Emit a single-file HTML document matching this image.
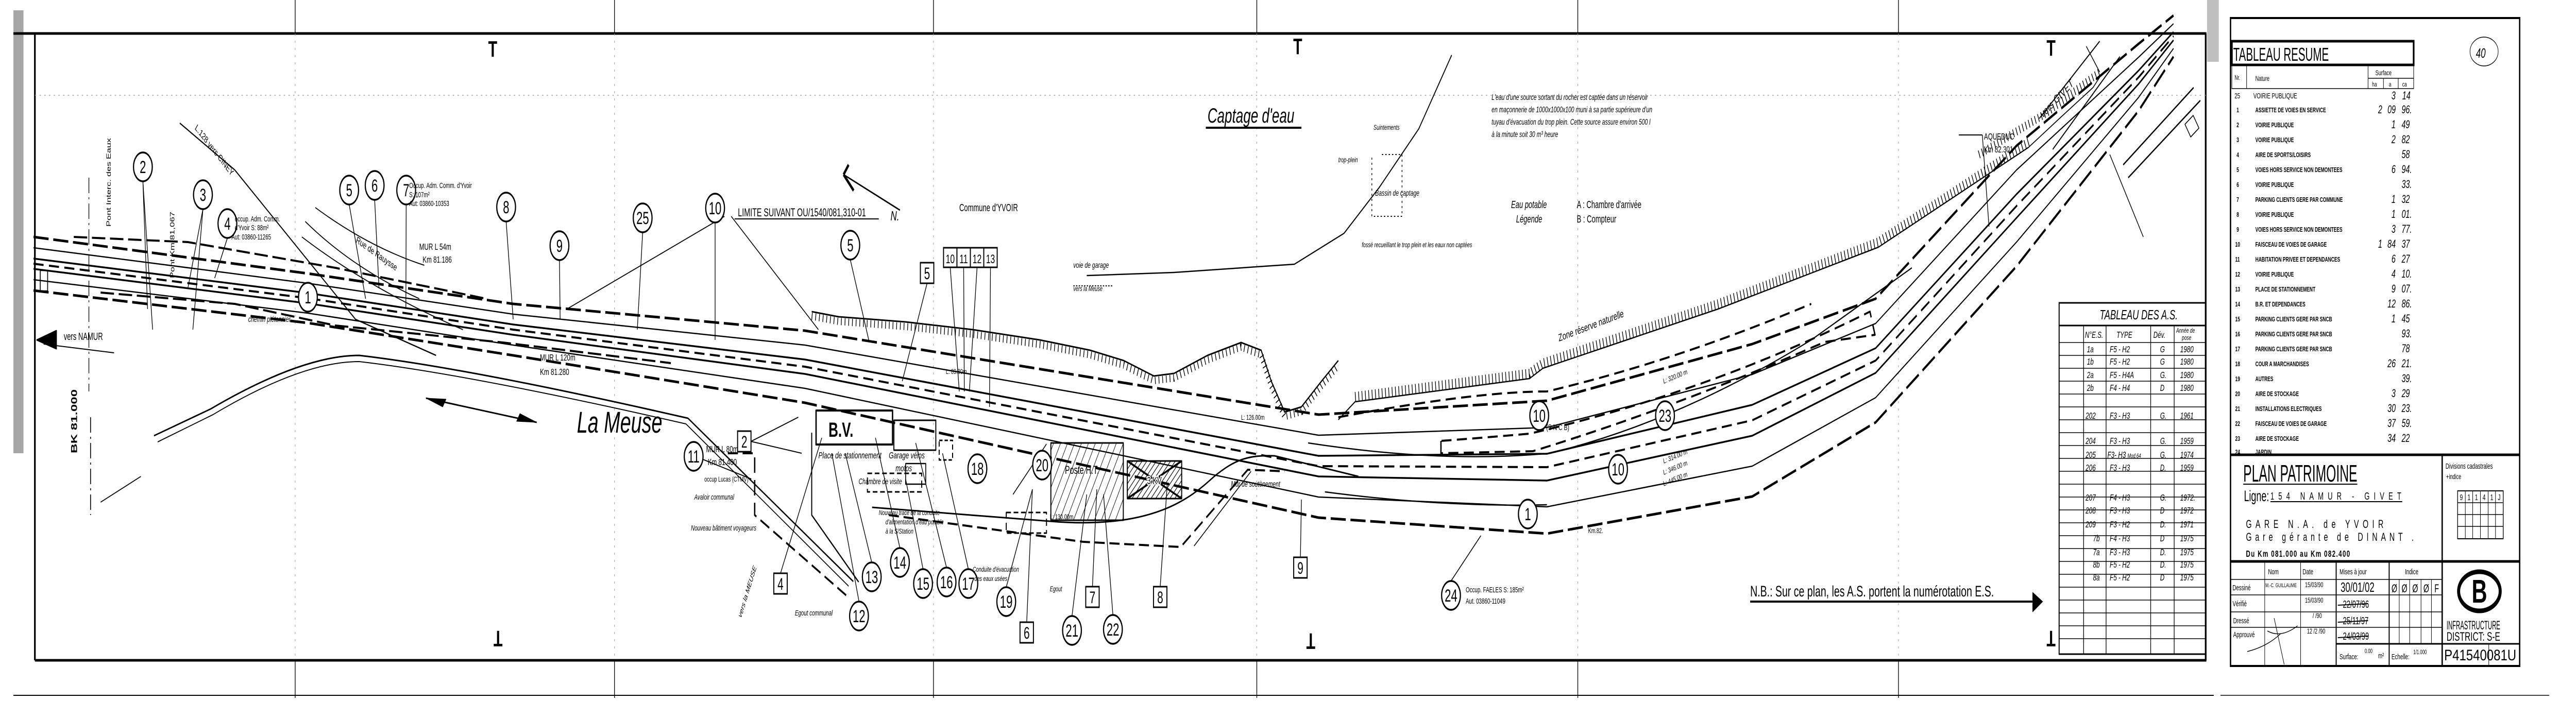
<!DOCTYPE html>
<html><head><meta charset="utf-8"><style>
html,body{margin:0;padding:0;background:#fff;width:100%;height:100%;overflow:hidden;}
svg{display:block;width:100vw;height:100vh;}
text{font-family:"Liberation Sans",sans-serif;fill:#000;}
.m{font-family:"Liberation Mono",monospace;font-weight:bold;}
</style></head><body>
<svg viewBox="0 0 7680 1361" preserveAspectRatio="none" xmlns="http://www.w3.org/2000/svg">
<defs>
<pattern id="h1" width="18" height="18" patternUnits="userSpaceOnUse" patternTransform="rotate(30)"><line x1="0" y1="0" x2="0" y2="18" stroke="#000" stroke-width="2.5"/></pattern>
<pattern id="h2" width="10" height="10" patternUnits="userSpaceOnUse" patternTransform="rotate(45)"><line x1="0" y1="0" x2="0" y2="10" stroke="#000" stroke-width="3"/></pattern>
</defs>
<rect width="7680" height="1361" fill="#fff"/>
<rect x="40" y="20" width="30" height="860" fill="#000" opacity="0.35"/>
<rect x="6580" y="0" width="35" height="120" fill="#000" opacity="0.25"/>
<g stroke="#000" fill="none">
<line x1="40" y1="65" x2="6578" y2="65" stroke-width="5"/>
<line x1="104" y1="65" x2="104" y2="1282" stroke-width="5"/>
<line x1="104" y1="1282" x2="6578" y2="1282" stroke-width="5"/>
<line x1="6576" y1="65" x2="6576" y2="1282" stroke-width="5"/>
<line x1="40" y1="1350" x2="6600" y2="1350" stroke-width="2"/>
<line x1="6620" y1="1350" x2="7600" y2="1350" stroke-width="1.5"/>
<g stroke-width="2">
<line x1="880" y1="0" x2="880" y2="65"/><line x1="880" y1="1282" x2="880" y2="1355"/>
<line x1="1832" y1="0" x2="1832" y2="65"/><line x1="1832" y1="1282" x2="1832" y2="1355"/>
<line x1="2783" y1="0" x2="2783" y2="65"/><line x1="2783" y1="1282" x2="2783" y2="1355"/>
<line x1="3747" y1="0" x2="3747" y2="65"/><line x1="3747" y1="1282" x2="3747" y2="1355"/>
<line x1="4704" y1="0" x2="4704" y2="65"/><line x1="4704" y1="1282" x2="4704" y2="1355"/>
<line x1="5660" y1="0" x2="5660" y2="65"/><line x1="5660" y1="1282" x2="5660" y2="1355"/>
</g>
<g stroke="#999" stroke-width="1.5" stroke-dasharray="4 10">
<line x1="880" y1="65" x2="880" y2="1282"/><line x1="1832" y1="65" x2="1832" y2="1282"/><line x1="2783" y1="65" x2="2783" y2="1282"/><line x1="3747" y1="65" x2="3747" y2="1282"/><line x1="4704" y1="65" x2="4704" y2="1282"/><line x1="5660" y1="65" x2="5660" y2="1282"/>
<line x1="104" y1="185" x2="6576" y2="185"/>
</g>
</g>
<g font-size="44" font-weight="bold" text-anchor="middle">
<text x="1469" y="110">T</text><text x="3869" y="105">T</text><text x="6115" y="108">T</text>
<text x="1485" y="1255" transform="rotate(180 1485 1240)">T</text>
<text x="3908" y="1260" transform="rotate(180 3908 1245)">T</text>
<text x="6115" y="1255" transform="rotate(180 6115 1240)">T</text>
</g>

<g fill="none" stroke="#000" stroke-linejoin="round">
<polyline stroke-width="5" stroke-dasharray="45 14" points="100,460 918,531 1530,590 2400,642 3931,805 4612,778 5224,668 5592,580 6012,283 6376,85 6480,30"/>
<polyline stroke-width="2.5" points="100,481 918,550 1530,610 2400,670 3931,845 4612,830 5224,727 5592,628 6012,330 6376,111 6480,46"/>
<polyline stroke-width="3.5" points="100,502 918,569 1530,630 2400,698 3931,885 4612,881 5224,786 5592,676 6012,377 6376,137 6480,62"/>
<polyline stroke-width="4" stroke-dasharray="30 16" points="100,512 918,579 1530,640 2400,712 3931,905 4612,907 5224,816 5592,700 6012,400 6376,150 6480,70"/>
<polyline stroke-width="3.5" points="100,522 918,589 1530,650 2400,726 3931,925 4612,933 5224,846 5592,724 6012,423 6376,163 6480,78"/>
<polyline stroke-width="2.5" points="100,543 918,608 1530,670 2400,754 3931,965 4612,984 5224,905 5592,772 6012,470 6376,189 6480,94"/>
<polyline stroke-width="5" stroke-dasharray="45 14" points="100,564 918,627 1530,690 2400,782 3931,1005 4612,1036 5224,964 5592,820 6012,517 6376,215 6480,110"/>
<path stroke-width="2.5" d="M3900,860 Q4300,900 4620,880 Q5000,820 5400,660 L5700,520"/>
<path stroke-width="2.5" d="M3950,955 Q4300,985 4612,980"/>
<path stroke-width="4" stroke-dasharray="30 16" d="M4296,856 L4296,880 L4570,876 Q5000,790 5440,664 L5590,650 L5575,605 Q5100,760 4560,842 Q4420,850 4296,856"/>
<path stroke-width="4" stroke-dasharray="30 16" d="M3990,810 Q4400,760 4612,760 Q5000,700 5400,590"/>
<path stroke-width="2.5" d="M536,239 L700,330 L1060,620 L1300,690"/>
<path stroke-width="2" d="M900,460 Q1100,560 1380,640"/>
<path stroke-width="2" d="M940,403 Q1100,480 1265,515"/>
<path stroke-width="2" d="M910,430 Q1050,520 1250,580"/>
<path stroke-width="4" stroke-dasharray="40 14" d="M220,460 L560,470 L1000,520 L1450,580"/>
<path stroke-width="4" stroke-dasharray="40 14" d="M300,568 L700,590 L1000,632 L1500,665 L2000,705"/>
<path stroke-width="3" d="M459,846 L628,794 Q900,690 1071,690 Q1400,715 2051,812 L2544,1129"/>
<path stroke-width="2" d="M470,858 L635,805 Q900,702 1071,702 Q1400,727 2045,823 L2530,1138"/>
<path stroke-width="2" d="M300,975 L420,925"/>
<path stroke-width="3" d="M2420,840 L2420,1000 L2560,1130"/>
<path stroke-width="4" stroke-dasharray="30 14" d="M2170,880 L2250,880 L2250,1000 L2530,1160"/>
<path stroke-width="3" d="M2600,985 L3130,1012 C3450,1030 3560,960 3620,925 C3680,893 3720,883 3800,885 L4050,925"/>
<path stroke-width="4" stroke-dasharray="30 14" d="M2650,1000 L3230,1052 L3520,1062 L3720,912 L3830,915"/>
<path stroke-width="2" d="M3560,1060 L3730,915"/>
<rect x="2433" y="797" width="228" height="66" stroke-width="4"/>
<rect x="2665" y="816" width="125" height="58" stroke-width="3"/>
<rect x="2800" y="855" width="40" height="38" stroke-width="3" stroke-dasharray="10 6"/>
<rect x="2586" y="919" width="162" height="36" stroke-width="3" stroke-dasharray="14 8"/>
<rect x="2700" y="900" width="60" height="40" stroke-width="2.5"/>
<rect x="3133" y="860" width="216" height="150" stroke-width="3" fill="url(#h1)"/>
<rect x="3361" y="895" width="162" height="73" stroke-width="3" fill="url(#h2)"/>
<line x1="3361" y1="895" x2="3523" y2="968" stroke-width="4"/><line x1="3361" y1="968" x2="3523" y2="895" stroke-width="4"/>
<rect x="3000" y="995" width="120" height="40" stroke-width="3" stroke-dasharray="14 8"/>
<polyline stroke-width="3" points="2420,605 2500,615 2700,625 2900,640 3100,660 3250,680 3350,700 3440,730 3500,725 3600,690 3700,665 3760,680 3790,740 3830,800 3880,790 3940,740 3990,700"/>
<polyline stroke-width="14" stroke-dasharray="2 9" transform="translate(0,9)" points="2420,605 2500,615 2700,625 2900,640 3100,660 3250,680 3350,700 3440,730 3500,725 3600,690 3700,665 3760,680 3790,740 3830,800 3880,790 3940,740 3990,700"/>
<polyline stroke-width="2.5" points="3990,815 4040,780 4560,735 4600,715 5122,600 5600,480 6048,286"/>
<polyline stroke-width="18" stroke-dasharray="2 8" transform="translate(0,-10)" points="4040,780 4560,735 4600,715 5122,600 5600,480 6048,286"/>
<polyline stroke-width="2" points="6048,286 6140,230 6240,170 6260,150"/>
<polyline stroke-width="16" stroke-dasharray="2 8" points="5900,300 6100,220 6200,170 6260,140"/>
<polyline stroke-width="2.5" points="4328,107 4230,250 4112,364 4007,453 3859,513 3500,529 3240,535"/>
<polyline stroke-width="2" stroke-dasharray="4 6" points="4120,300 4180,300 4180,420 4090,420 4090,300"/>
<line x1="3200" y1="555" x2="3320" y2="555" stroke-width="2" stroke-dasharray="4 4"/>
<path stroke-width="2.5" d="M6080,230 L6260,80"/>
<path stroke-width="2.5" d="M6120,290 L6320,110"/>
<path stroke-width="3" d="M6330,320 L6540,170"/>
<path stroke-width="3" d="M6345,345 L6560,195"/>
<path stroke-width="2" d="M6290,300 L6390,460"/>
<path stroke-width="2" d="M6220,90 L6260,140"/>
<rect x="6520" y="230" width="30" height="30" stroke-width="2" transform="rotate(-35 6535 245)"/>
<path stroke-width="3" d="M168,642 L168,677 L110,660 Z" fill="#000"/>
<line x1="130" y1="668" x2="340" y2="685" stroke-width="2"/>
<line x1="265" y1="345" x2="265" y2="760" stroke-width="2" stroke-dasharray="30 8 4 8"/>
<line x1="270" y1="810" x2="270" y2="1000" stroke-width="2.5" stroke-dasharray="30 8 4 8"/>
<rect x="120" y="525" width="22" height="40" stroke-width="2.5"/>
<path stroke-width="3" d="M1270,773 L1600,820"/><path d="M1270,773 L1330,775 L1320,790 Z" fill="#000"/><path d="M1600,820 L1540,818 L1550,803 Z" fill="#000"/>
<line x1="2515" y1="339" x2="2683" y2="408" stroke-width="3"/><path d="M2515,339 L2545,370 M2515,339 L2530,320" stroke-width="6"/>
<line x1="5218" y1="1168" x2="6060" y2="1168" stroke-width="4"/><path d="M6060,1150 L6090,1168 L6060,1188 Z" fill="#000"/>
<line x1="5840" y1="262" x2="5910" y2="262" stroke-width="2"/><line x1="5910" y1="262" x2="5930" y2="440" stroke-width="2"/>
<line x1="2190" y1="425" x2="2620" y2="425" stroke-width="2"/>
</g>

<g stroke="#000" stroke-width="2" fill="none">
<path d="M426,352 L440,600 M426,352 L455,640"/><path d="M605,406 L560,560 M605,406 L575,640"/><path d="M678,462 L640,540"/>
<path d="M1041,397 L1090,580"/><path d="M1117,388 L1130,560"/><path d="M1211,397 L1210,600"/><path d="M1509,430 L1530,620"/>
<path d="M1668,505 L1670,620"/><path d="M1916,451 L1900,640"/><path d="M2160,420 L1690,600 M2132,432 L2132,660 M2180,420 L2440,640"/>
<path d="M2535,504 L2590,660"/><path d="M2764,550 L2690,740"/><path d="M2833,519 L2860,760 M2873,519 L2875,760 M2913,519 L2890,760 M2953,519 L2950,790"/>
<path d="M2096,892 L2240,930"/><path d="M2239,857 L2380,810 M2239,857 L2390,880"/><path d="M2327,1113 L2450,850"/>
<path d="M2599,1092 L2520,880"/><path d="M2683,1064 L2610,850"/><path d="M2752,1105 L2700,930"/><path d="M2822,1102 L2730,860"/><path d="M2887,1105 L2810,880"/>
<path d="M2561,1168 L2480,880"/><path d="M3000,1140 L3078,950"/><path d="M3196,1196 L3240,960"/><path d="M3318,1194 L3290,960"/>
<path d="M3061,1208 L3078,950"/><path d="M3257,1139 L3270,950"/><path d="M3459,1139 L3480,940"/><path d="M3877,1082 L3880,970"/>
<path d="M4326,1128 L4415,1040"/><path d="M3020,960 L3120,862"/>
</g>

<g font-size="34" text-anchor="middle" stroke="none">
<g fill="#fff" stroke="#000" stroke-width="3.5">
<circle cx="426" cy="324" r="28"/><circle cx="605" cy="378" r="28"/><circle cx="678" cy="434" r="28"/><circle cx="1041" cy="369" r="28"/><circle cx="1117" cy="360" r="28"/><circle cx="1211" cy="369" r="28"/><circle cx="1509" cy="402" r="28"/><circle cx="1668" cy="477" r="28"/><circle cx="1916" cy="423" r="28"/><circle cx="2132" cy="404" r="28"/><circle cx="918" cy="577" r="28"/><circle cx="2068" cy="886" r="28"/><circle cx="2535" cy="476" r="28"/><circle cx="2914" cy="910" r="28"/><circle cx="3107" cy="903" r="28"/><circle cx="2599" cy="1120" r="28"/><circle cx="2683" cy="1092" r="28"/><circle cx="2752" cy="1133" r="28"/><circle cx="2822" cy="1130" r="28"/><circle cx="2887" cy="1133" r="28"/><circle cx="2561" cy="1196" r="28"/><circle cx="3000" cy="1168" r="28"/><circle cx="3196" cy="1224" r="28"/><circle cx="3318" cy="1222" r="28"/><circle cx="4589" cy="807" r="28"/><circle cx="4555" cy="998" r="28"/><circle cx="4326" cy="1156" r="28"/><circle cx="4964" cy="807" r="28"/><circle cx="4824" cy="911" r="28"/>
</g>
<text x="426" y="336">2</text><text x="605" y="390">3</text><text x="678" y="446">4</text><text x="1041" y="381">5</text><text x="1117" y="372">6</text><text x="1211" y="381">7</text><text x="1509" y="414">8</text><text x="1668" y="489">9</text><text x="1916" y="435">25</text><text x="2132" y="416">10</text><text x="918" y="589">1</text><text x="2068" y="898">11</text><text x="2535" y="488">5</text><text x="2914" y="922">18</text><text x="3107" y="915">20</text><text x="2599" y="1132">13</text><text x="2683" y="1104">14</text><text x="2752" y="1145">15</text><text x="2822" y="1142">16</text><text x="2887" y="1145">17</text><text x="2561" y="1208">12</text><text x="3000" y="1180">19</text><text x="3196" y="1236">21</text><text x="3318" y="1234">22</text><text x="4589" y="819">10</text><text x="4555" y="1010">1</text><text x="4326" y="1168">24</text><text x="4964" y="819">23</text><text x="4824" y="923">10</text>
</g>
<g font-size="32" text-anchor="middle">
<g fill="#fff" stroke="#000" stroke-width="3">
<rect x="2199" y="837" width="40" height="40"/><rect x="2307" y="1113" width="40" height="40"/><rect x="2744" y="510" width="40" height="40"/><rect x="3041" y="1208" width="40" height="40"/><rect x="3237" y="1139" width="40" height="40"/><rect x="3439" y="1139" width="40" height="40"/><rect x="3857" y="1082" width="40" height="40"/>
<rect x="2813" y="481" width="40" height="38"/><rect x="2853" y="481" width="40" height="38"/><rect x="2893" y="481" width="40" height="38"/><rect x="2933" y="481" width="40" height="38"/>
</g>
<text x="2219" y="869">2</text><text x="2327" y="1145">4</text><text x="2764" y="542">5</text><text x="3061" y="1240">6</text><text x="3257" y="1171">7</text><text x="3459" y="1171">8</text><text x="3877" y="1114">9</text>
<text x="2833" y="511" font-size="24">10</text><text x="2873" y="511" font-size="24">11</text><text x="2913" y="511" font-size="24">12</text><text x="2953" y="511" font-size="24">13</text>
</g>

<g font-size="20">
<text x="2200" y="420" font-size="22">LIMITE SUIVANT OU/1540/081,310-01</text>
<text x="2655" y="428" font-size="26" font-style="italic">N.</text>
<text x="3600" y="238" font-size="40" font-style="italic">Captage d'eau</text>
<line x1="3595" y1="248" x2="3880" y2="248" stroke="#000" stroke-width="4"/>
<text x="2860" y="410" font-size="20">Commune d'YVOIR</text>
<text x="4447" y="194" font-size="16" font-style="italic">L'eau d'une source sortant du rocher est captée dans un réservoir</text>
<text x="4447" y="218" font-size="16" font-style="italic">en maçonnerie de 1000x1000x100 muni à sa partie supérieure d'un</text>
<text x="4447" y="242" font-size="16" font-style="italic">tuyau d'évacuation du trop plein. Cette source assure environ 500 l</text>
<text x="4447" y="266" font-size="16" font-style="italic">à la minute soit 30 m³ heure</text>
<text x="4505" y="404" font-style="italic">Eau potable</text><text x="4520" y="432" font-style="italic">Légende</text>
<text x="4701" y="404">A : Chambre d'arrivée</text><text x="4701" y="432">B : Compteur</text>
<text x="4095" y="252" font-size="14" font-style="italic">Suintements</text>
<text x="3990" y="315" font-size="14" font-style="italic">trop-plein</text>
<text x="4100" y="380" font-size="16" font-style="italic">Bassin de captage</text>
<text x="4060" y="480" font-size="14" font-style="italic">fossé recueillant le trop plein et les eaux non captées</text>
<text x="3200" y="520" font-size="16" font-style="italic">voie de garage</text>
<text x="3200" y="565" font-size="14" font-style="italic">vers la Meuse</text>
<text x="4648" y="663" font-size="20" transform="rotate(-14 4648 663)">Zone réserve naturelle</text>
<text x="5915" y="271" font-size="18">AQUEDUC</text><text x="5915" y="296" font-size="18">Km 82.301</text>
<text x="6090" y="230" font-size="22" transform="rotate(-35 6090 230)">vers GIVET</text>
<text x="1720" y="840" font-size="58" font-style="italic" font-family="Liberation Serif">La  Meuse</text>
<text x="190" y="660" font-size="20">vers  NAMUR</text>
<text x="230" y="880" font-size="26" font-weight="bold" transform="rotate(-90 230 880)">BK 81.000</text>
<text x="330" y="440" font-size="18" transform="rotate(-90 330 440)">Pont Interc. des Eaux</text>
<text x="520" y="540" font-size="18" transform="rotate(-90 520 540)">Pont Km 81,067</text>
<text x="580" y="250" font-size="18" transform="rotate(40 580 250)">L.128 vers CINEY</text>
<text x="1220" y="365" font-size="15">Occup. Adm. Comm. d'Yvoir</text><text x="1220" y="383" font-size="15">S: 107m²</text><text x="1220" y="400" font-size="15">Aut: 03860-10353</text>
<text x="700" y="430" font-size="15">occup. Adm. Comm.</text><text x="700" y="447" font-size="15">d'Yvoir S: 88m²</text><text x="690" y="465" font-size="15">Aut: 03860-11265</text>
<text x="1250" y="485" font-size="18">MUR L 54m</text><text x="1260" y="510" font-size="18">Km 81.186</text>
<text x="1610" y="700" font-size="18">MUR L 120m</text><text x="1610" y="728" font-size="18">Km 81.280</text>
<text x="2105" y="878" font-size="18">MUR L 80m</text><text x="2110" y="903" font-size="18">Km 81.400</text>
<text x="1060" y="470" font-size="18" transform="rotate(25 1060 470)">Rue de Rauysse</text>
<text x="740" y="625" font-size="16" font-style="italic">chemin piétonnier</text>
<text x="2100" y="935" font-size="14">occup Lucas (CTMV)</text>
<text x="2070" y="970" font-size="15" font-style="italic">Avaloir communal</text>
<text x="2060" y="1030" font-size="15" font-style="italic">Nouveau bâtiment voyageurs</text>
<text x="2210" y="1200" font-size="16" font-style="italic" transform="rotate(-65 2210 1200)">vers la MEUSE</text>
<text x="2370" y="1195" font-size="15" font-style="italic">Egout communal</text>
<text x="2470" y="848" font-size="40" font-weight="bold">B.V.</text>
<text x="2440" y="890" font-size="18" font-style="italic">Place de stationnement</text>
<text x="2560" y="940" font-size="16" font-style="italic">Chambre de visite</text>
<text x="2650" y="890" font-size="18" font-style="italic">Garage vélos</text><text x="2670" y="915" font-size="18" font-style="italic">motos</text>
<text x="2620" y="1000" font-size="14" font-style="italic">Nouveau tracé de la conduite</text><text x="2640" y="1018" font-size="14" font-style="italic">d'alimentation d'eau potable</text><text x="2640" y="1036" font-size="14" font-style="italic">à la S/Station</text>
<text x="3175" y="920" font-size="22">Poste H.T.</text>
<text x="3420" y="940" font-size="20" fill="#fff" stroke="#fff" stroke-width="5">3 KV</text><text x="3420" y="940" font-size="20">3 KV</text>
<text x="3670" y="945" font-size="16" font-style="italic">Mur de soutènement</text>
<text x="2900" y="1110" font-size="14" font-style="italic">Conduite d'évacuation</text><text x="2905" y="1128" font-size="14" font-style="italic">des eaux usées</text>
<text x="3130" y="1148" font-size="14" font-style="italic">Egout</text>
<text x="4370" y="1150" font-size="15">Occup. FAELES S: 185m²</text><text x="4370" y="1172" font-size="15">Aut. 03860-11049</text>
<text x="5218" y="1158" font-size="30">N.B.: Sur ce plan, les A.S. portent la numérotation E.S.</text>
<text x="2820" y="726" font-size="14">L: 89.80m</text><text x="3700" y="815" font-size="14">L: 126.00m</text><text x="3130" y="1008" font-size="14">L: 130.00m</text>
<text x="4960" y="900" font-size="14" transform="rotate(-15 4960 900)">L: 314.00 m</text>
<text x="4960" y="922" font-size="14" transform="rotate(-15 4960 922)">L: 346.00 m</text>
<text x="4960" y="944" font-size="14" transform="rotate(-15 4960 944)">L: 445.00 m</text>
<text x="4960" y="745" font-size="14" transform="rotate(-15 4960 745)">L: 320.00 m</text>
<text x="4610" y="835" font-size="16">(S N C B)</text>
<text x="4735" y="1035" font-size="14">Km.82.</text>
</g>

<g stroke="#000" fill="none">
<rect x="6139" y="588" width="437" height="682" stroke-width="3"/>
<line x1="6139" y1="632" x2="6576" y2="632" stroke-width="3"/>
<line x1="6212" y1="632" x2="6212" y2="1270" stroke-width="2"/>
<line x1="6279" y1="632" x2="6279" y2="1270" stroke-width="2"/>
<line x1="6412" y1="632" x2="6412" y2="1270" stroke-width="2"/>
<line x1="6482" y1="632" x2="6482" y2="1270" stroke-width="2"/>
<g stroke-width="1.5">
<line x1="6139" y1="665" x2="6576" y2="665"/><line x1="6139" y1="690" x2="6576" y2="690"/><line x1="6139" y1="715" x2="6576" y2="715"/><line x1="6139" y1="740" x2="6576" y2="740"/><line x1="6139" y1="765" x2="6576" y2="765"/><line x1="6139" y1="790" x2="6576" y2="790"/><line x1="6139" y1="815" x2="6576" y2="815"/><line x1="6139" y1="840" x2="6576" y2="840"/><line x1="6139" y1="865" x2="6576" y2="865"/><line x1="6139" y1="890" x2="6576" y2="890"/><line x1="6139" y1="915" x2="6576" y2="915"/><line x1="6139" y1="940" x2="6576" y2="940"/><line x1="6139" y1="965" x2="6576" y2="965"/><line x1="6139" y1="990" x2="6576" y2="990"/><line x1="6139" y1="1015" x2="6576" y2="1015"/><line x1="6139" y1="1040" x2="6576" y2="1040"/><line x1="6139" y1="1065" x2="6576" y2="1065"/><line x1="6139" y1="1090" x2="6576" y2="1090"/><line x1="6139" y1="1115" x2="6576" y2="1115"/><line x1="6139" y1="1140" x2="6576" y2="1140"/><line x1="6139" y1="1165" x2="6576" y2="1165"/><line x1="6139" y1="1190" x2="6576" y2="1190"/><line x1="6139" y1="1215" x2="6576" y2="1215"/><line x1="6139" y1="1240" x2="6576" y2="1240"/>
</g></g>
<g font-size="18" font-style="italic">
<text x="6260" y="620" font-size="26">TABLEAU DES  A.S.</text>
<text x="6216" y="656">N°E.S.</text><text x="6310" y="656">TYPE</text><text x="6420" y="656">Dév.</text><text x="6488" y="646" font-size="13">Année de</text><text x="6505" y="660" font-size="13">pose</text>
<text x="6222" y="684">1a</text><text x="6290" y="684">F5 - H2</text><text x="6440" y="684">G</text><text x="6500" y="684">1980</text>
<text x="6222" y="708">1b</text><text x="6290" y="708">F5 - H2</text><text x="6440" y="708">G</text><text x="6500" y="708">1980</text>
<text x="6222" y="734">2a</text><text x="6290" y="734">F5 - H4A</text><text x="6440" y="734">G.</text><text x="6500" y="734">1980</text>
<text x="6222" y="759">2b</text><text x="6290" y="759">F4 - H4</text><text x="6440" y="759">D</text><text x="6500" y="759">1980</text>
<text x="6218" y="813">202</text><text x="6290" y="813">F3 - H3</text><text x="6440" y="813">G.</text><text x="6500" y="813">1961</text>
<text x="6218" y="862">204</text><text x="6290" y="862">F3 - H3</text><text x="6440" y="862">G.</text><text x="6500" y="862">1959</text>
<text x="6218" y="889">205</text><text x="6283" y="889">F3- H3 <tspan font-size="12">Mod.64</tspan></text><text x="6440" y="889">G.</text><text x="6500" y="889">1974</text>
<text x="6218" y="914">206</text><text x="6290" y="914">F3 - H3</text><text x="6440" y="914">D.</text><text x="6500" y="914">1959</text>
<text x="6218" y="972">207</text><text x="6290" y="972">F4 - H3</text><text x="6440" y="972">G.</text><text x="6500" y="972">1972.</text>
<text x="6218" y="997">208</text><text x="6290" y="997">F3 - H3</text><text x="6440" y="997">D</text><text x="6500" y="997">1972</text>
<text x="6218" y="1024">209</text><text x="6290" y="1024">F3 - H2</text><text x="6440" y="1024">D.</text><text x="6500" y="1024">1971</text>
<text x="6240" y="1051">7b</text><text x="6290" y="1051">F4 - H3</text><text x="6440" y="1051">D</text><text x="6500" y="1051">1975</text>
<text x="6240" y="1078">7a</text><text x="6290" y="1078">F3 - H3</text><text x="6440" y="1078">D.</text><text x="6500" y="1078">1975</text>
<text x="6240" y="1102">8b</text><text x="6290" y="1102">F5 - H2</text><text x="6440" y="1102">D.</text><text x="6500" y="1102">1975</text>
<text x="6240" y="1127">8a</text><text x="6290" y="1127">F5 - H2</text><text x="6440" y="1127">D</text><text x="6500" y="1127">1975</text>
</g>

<g stroke="#000" fill="none">
<rect x="6650" y="35" width="862" height="1258" stroke-width="4"/>
<rect x="6654" y="80" width="542" height="46" stroke-width="5"/>
<rect x="6654" y="126" width="542" height="46" stroke-width="1.5"/>
<line x1="6698" y1="126" x2="6698" y2="172" stroke-width="1.5"/>
<line x1="7060" y1="126" x2="7060" y2="172" stroke-width="1.5"/>
<line x1="7060" y1="152" x2="7196" y2="152" stroke-width="1.5"/>
<line x1="7106" y1="152" x2="7106" y2="172" stroke-width="1.5"/>
<line x1="7150" y1="152" x2="7150" y2="172" stroke-width="1.5"/>
<ellipse cx="7406" cy="100" rx="42" ry="28" stroke-width="1.5"/>
<line x1="6650" y1="883" x2="7512" y2="883" stroke-width="5"/>
<line x1="7281" y1="883" x2="7281" y2="1294" stroke-width="4"/>
<line x1="6650" y1="1090" x2="7512" y2="1090" stroke-width="5"/>
<rect x="7327" y="953" width="136" height="93" stroke-width="2"/>
<g stroke-width="1.5">
<line x1="7350" y1="953" x2="7350" y2="1046"/><line x1="7372" y1="953" x2="7372" y2="1046"/><line x1="7395" y1="953" x2="7395" y2="1046"/><line x1="7418" y1="953" x2="7418" y2="1046"/><line x1="7440" y1="953" x2="7440" y2="1046"/>
<line x1="7327" y1="976" x2="7463" y2="976"/><line x1="7327" y1="999" x2="7463" y2="999"/><line x1="7327" y1="1022" x2="7463" y2="1022"/>
</g>
<line x1="6965" y1="1090" x2="6965" y2="1294" stroke-width="3"/>
<line x1="7123" y1="1090" x2="7123" y2="1294" stroke-width="3"/>
<g stroke-width="1.5">
<line x1="6752" y1="1090" x2="6752" y2="1294"/><line x1="6859" y1="1090" x2="6859" y2="1294"/>
<line x1="6650" y1="1125" x2="7281" y2="1125"/><line x1="6650" y1="1155" x2="7281" y2="1155"/><line x1="6650" y1="1188" x2="7281" y2="1188"/><line x1="6650" y1="1218" x2="7281" y2="1218"/>
<line x1="7153" y1="1125" x2="7153" y2="1250"/><line x1="7184" y1="1125" x2="7184" y2="1250"/><line x1="7218" y1="1125" x2="7218" y2="1250"/><line x1="7249" y1="1125" x2="7249" y2="1250"/>
</g>
<line x1="6965" y1="1250" x2="7512" y2="1250" stroke-width="3"/>
<line x1="7420" y1="1250" x2="7420" y2="1294" stroke-width="1.5"/>
<ellipse cx="7392" cy="1148" rx="62" ry="38" stroke-width="9"/>
<path d="M6780,1200 Q6800,1260 6810,1290 M6760,1225 Q6800,1240 6850,1215 M6700,1265 Q6760,1255 6800,1230" stroke-width="1.5"/>
<line x1="6970" y1="1175" x2="7060" y2="1172" stroke-width="2"/><line x1="6970" y1="1208" x2="7060" y2="1205" stroke-width="2"/><line x1="6970" y1="1238" x2="7060" y2="1235" stroke-width="2"/>
</g>
<g font-size="34">
<text x="6658" y="118" font-size="36" textLength="285" lengthAdjust="spacingAndGlyphs">TABLEAU  RESUME</text>
<text x="6662" y="155" font-size="13">Nr.</text><text x="6724" y="157" font-size="14">Nature</text>
<text x="7082" y="146" font-size="14">Surface</text><text x="7072" y="168" font-size="13">ha</text><text x="7122" y="168" font-size="13">a</text><text x="7162" y="168" font-size="13">ca</text>
<text x="7396" y="112" font-size="26" font-style="italic" text-anchor="middle">40</text>
</g>
<g font-size="13" class="m">
<text x="6662" y="191" font-size="15" font-weight="normal" font-family="Liberation Sans">25</text><text x="6718" y="191" font-size="15" font-weight="normal" font-family="Liberation Sans">VOIRIE PUBLIQUE</text>
<text x="6668" y="218">1</text><text x="6724" y="218">ASSIETTE DE VOIES EN SERVICE</text>
<text x="6668" y="247">2</text><text x="6724" y="247">VOIRIE PUBLIQUE</text>
<text x="6668" y="276">3</text><text x="6724" y="276">VOIRIE PUBLIQUE</text>
<text x="6668" y="305">4</text><text x="6724" y="305">AIRE DE SPORTS/LOISIRS</text>
<text x="6668" y="334">5</text><text x="6724" y="334">VOIES HORS SERVICE NON DEMONTEES</text>
<text x="6668" y="363">6</text><text x="6724" y="363">VOIRIE PUBLIQUE</text>
<text x="6668" y="392">7</text><text x="6724" y="392">PARKING CLIENTS GERE PAR COMMUNE</text>
<text x="6668" y="421">8</text><text x="6724" y="421">VOIRIE PUBLIQUE</text>
<text x="6668" y="450">9</text><text x="6724" y="450">VOIES HORS SERVICE NON DEMONTEES</text>
<text x="6664" y="479">10</text><text x="6724" y="479">FAISCEAU DE VOIES DE GARAGE</text>
<text x="6664" y="508">11</text><text x="6724" y="508">HABITATION PRIVEE ET DEPENDANCES</text>
<text x="6664" y="537">12</text><text x="6724" y="537">VOIRIE PUBLIQUE</text>
<text x="6664" y="566">13</text><text x="6724" y="566">PLACE DE STATIONNEMENT</text>
<text x="6664" y="595">14</text><text x="6724" y="595">B.R. ET DEPENDANCES</text>
<text x="6664" y="624">15</text><text x="6724" y="624">PARKING CLIENTS GERE PAR SNCB</text>
<text x="6664" y="653">16</text><text x="6724" y="653">PARKING CLIENTS GERE PAR SNCB</text>
<text x="6664" y="682">17</text><text x="6724" y="682">PARKING CLIENTS GERE PAR SNCB</text>
<text x="6664" y="711">18</text><text x="6724" y="711">COUR A MARCHANDISES</text>
<text x="6664" y="740">19</text><text x="6724" y="740">AUTRES</text>
<text x="6664" y="769">20</text><text x="6724" y="769">AIRE DE STOCKAGE</text>
<text x="6664" y="798">21</text><text x="6724" y="798">INSTALLATIONS ELECTRIQUES</text>
<text x="6664" y="827">22</text><text x="6724" y="827">FAISCEAU DE VOIES DE GARAGE</text>
<text x="6664" y="856">23</text><text x="6724" y="856">AIRE DE STOCKAGE</text>
<text x="6664" y="882">24</text><text x="6724" y="882">JARDIN</text>
</g>
<g font-size="22" font-style="italic" font-family="Liberation Serif">
<text x="7130" y="193">3</text><text x="7162" y="193">14</text>
<text x="7090" y="220">2</text><text x="7118" y="220">09</text><text x="7160" y="220">96.</text>
<text x="7130" y="249">1</text><text x="7160" y="249">49</text>
<text x="7130" y="278">2</text><text x="7160" y="278">82</text>
<text x="7160" y="307">58</text>
<text x="7130" y="336">6</text><text x="7160" y="336">94.</text>
<text x="7160" y="365">33.</text>
<text x="7130" y="394">1</text><text x="7160" y="394">32</text>
<text x="7130" y="423">1</text><text x="7160" y="423">01.</text>
<text x="7130" y="452">3</text><text x="7160" y="452">77.</text>
<text x="7090" y="481">1</text><text x="7118" y="481">84</text><text x="7160" y="481">37</text>
<text x="7130" y="510">6</text><text x="7160" y="510">27</text>
<text x="7130" y="539">4</text><text x="7160" y="539">10.</text>
<text x="7130" y="568">9</text><text x="7160" y="568">07.</text>
<text x="7118" y="597">12</text><text x="7160" y="597">86.</text>
<text x="7130" y="626">1</text><text x="7160" y="626">45</text>
<text x="7160" y="655">93.</text>
<text x="7160" y="684">78</text>
<text x="7118" y="713">26</text><text x="7160" y="713">21.</text>
<text x="7160" y="742">39.</text>
<text x="7130" y="771">3</text><text x="7160" y="771">29</text>
<text x="7118" y="800">30</text><text x="7160" y="800">23.</text>
<text x="7118" y="829">37</text><text x="7160" y="829">59.</text>
<text x="7118" y="858">34</text><text x="7160" y="858">22</text>
</g>
<g>
<text x="6688" y="935" font-size="46" textLength="340" lengthAdjust="spacingAndGlyphs">PLAN PATRIMOINE</text>
<line x1="6688" y1="940" x2="7028" y2="940" stroke="#000" stroke-width="2"/>
<text x="6690" y="973" font-size="30" textLength="75" lengthAdjust="spacingAndGlyphs">Ligne:</text>
<text x="6769" y="970" font-size="20" font-family="Liberation Mono" textLength="390" lengthAdjust="spacing">154 NAMUR - GIVET</text>
<line x1="6769" y1="974" x2="7162" y2="974" stroke="#000" stroke-width="2"/>
<text x="6696" y="1025" font-size="22" font-family="Liberation Mono" textLength="410" lengthAdjust="spacing">GARE N.A. de YVOIR</text>
<text x="6696" y="1050" font-size="22" font-family="Liberation Mono" textLength="500" lengthAdjust="spacing">Gare gérante de DINANT .</text>
<text x="6696" y="1081" font-size="18" font-family="Liberation Mono" font-weight="bold" textLength="310" lengthAdjust="spacing">Du Km 081.000 au Km 082.400</text>
<text x="7291" y="910" font-size="15">Divisions cadastrales</text><text x="7293" y="930" font-size="14">+indice</text>
<g font-size="16" text-anchor="middle"><text x="7338" y="971">9</text><text x="7361" y="971">1</text><text x="7383" y="971">1</text><text x="7406" y="971">4</text><text x="7429" y="971">1</text><text x="7451" y="971">J</text></g>
<g font-size="15">
<text x="6762" y="1115">Nom</text><text x="6865" y="1115">Date</text><text x="6975" y="1115">Mises à jour</text><text x="7170" y="1115">Indice</text>
<text x="6656" y="1146">Dessiné</text><text x="6656" y="1177">Vérifié</text><text x="6658" y="1210">Dressé</text><text x="6658" y="1237">Approuvé</text>
<text x="6754" y="1140" font-size="11" font-family="Liberation Mono">M.-C. GUILLAUME</text>
<text x="6872" y="1140" font-size="14">15/03/90</text><text x="6872" y="1170" font-size="14">15/03/90</text><text x="6895" y="1200" font-size="14">/ /90</text><text x="6878" y="1230" font-size="14">12 /2 /90</text>
<text x="6978" y="1149" font-size="26" font-family="Liberation Mono">30/01/02</text>
<text x="6985" y="1180" font-size="20">22/07/96</text><text x="6985" y="1212" font-size="20">25/11/97</text><text x="6985" y="1242" font-size="20">24/03/99</text>
<text x="7130" y="1150" font-size="22">Ø</text><text x="7160" y="1150" font-size="22">Ø</text><text x="7192" y="1150" font-size="22">Ø</text><text x="7225" y="1150" font-size="22">Ø</text><text x="7258" y="1150" font-size="22">F</text>
<text x="6975" y="1280">Surface:</text><text x="7050" y="1268" font-size="12">0.00</text><text x="7090" y="1278">m²</text>
<text x="7130" y="1280">Echelle:</text><text x="7195" y="1270" font-size="12">1/1.000</text>
<text x="7294" y="1222" font-size="24" textLength="160" lengthAdjust="spacingAndGlyphs">INFRASTRUCTURE</text>
<text x="7294" y="1244" font-size="24" textLength="160" lengthAdjust="spacingAndGlyphs">DISTRICT: S-E</text>
<text x="7287" y="1282" font-size="30" font-family="Liberation Mono" textLength="215" lengthAdjust="spacingAndGlyphs">P41540081U</text>
</g>
<text x="7392" y="1170" font-size="64" font-weight="bold" font-family="Liberation Serif" text-anchor="middle">B</text>
</g>
</svg>
</body></html>
